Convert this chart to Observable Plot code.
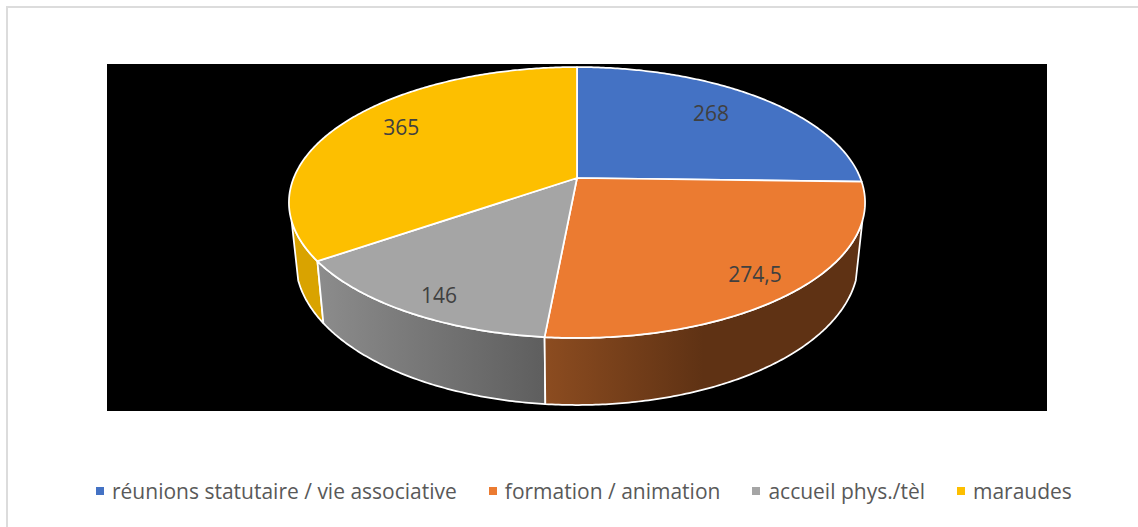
<!DOCTYPE html>
<html lang="fr">
<head>
<meta charset="utf-8">
<script src="https://cdn.jsdelivr.net/npm/d3@7"></script>
<script src="https://cdn.jsdelivr.net/npm/@observablehq/plot@0.6"></script>
<style>
  html, body { margin: 0; padding: 0; background: #fff; }
  #page { position: relative; width: 1138px; height: 527px; overflow: hidden; font-family: "Open Sans", sans-serif; }
  #edge { position: absolute; left: 6px; top: 6px; right: 0; bottom: 0; border-top: 2px solid #dcdcdc; border-left: 2px solid #dcdcdc; box-sizing: border-box; }
  #chart { position: absolute; left: 0; top: 0; }
  #chart svg { display: block; }
  #legend { position: absolute; left: 96px; top: 477px; display: flex; align-items: center; white-space: nowrap; font-size: 21px; line-height: 28px; color: #595959; }
  #legend span.item { display: inline-flex; align-items: center; margin-right: 32px; }
  #legend i { display: inline-block; width: 8px; height: 8px; margin-right: 8px; }
</style>
</head>
<body>
<div id="page"><div id="edge"></div><div id="chart"></div><div id="legend"></div></div>
<script>
// Data
const categories = ["réunions statutaire / vie associative", "formation / animation", "accueil phys./tèl", "maraudes"];
const values = [268, 274.5, 146, 365];
const valueLabels = ["268", "274,5", "146", "365"];
const colors = ["#4472C4", "#EB7B31", "#A5A5A5", "#FDBF00"];

// Perspective of the pie
const radius = 283.3, farScale = 131, persp = 0.181;   // top face
const lowerX = 0.977, lowerY = 1.066, lowerDrop = 56.5; // bottom ring
const silhouette = 108 * Math.PI / 180;                 // where the rim starts to be seen
const labelRadius = [0.746, 0.856, 0.88, 0.783];
const labelTurn = [-1.7, 1.2, -1.9, 4];
const sideStops = [
  [["0", "#3a5fa5"], ["1", "#2a4a85"]],
  [["0", "#8c4c20"], ["0.5", "#5f3214"], ["1", "#5f3214"]],
  [["0", "#8c8c8c"], ["1", "#5e5e5e"]],
  [["0", "#d9a300"], ["1", "#d9a300"]]
];

const arcs = d3.pie().sort(null).startAngle(0).endAngle(2 * Math.PI)(values);

function topRing(theta, r = 1) {
  const u = r * Math.sin(theta), v = r * Math.cos(theta), w = 1 + persp * v;
  return {x: radius * u / w, y: farScale * v / w};
}
function lowRing(theta) {
  const p = topRing(theta);
  return {x: p.x * lowerX, y: p.y * lowerY - lowerDrop};
}
function arcAngles(start, end) {
  const n = Math.max(8, Math.ceil((end - start) / 0.01));
  return d3.range(n + 1).map(i => start + (end - start) * i / n);
}
const facePts = arcs.map(a => [{x: 0, y: 0}, ...arcAngles(a.startAngle, a.endAngle).map(t => topRing(t))]);
const sidePts = arcs.map(a => {
  const start = Math.max(a.startAngle, silhouette);
  const end = Math.min(a.endAngle, 2 * Math.PI - silhouette);
  if (end <= start) return [];
  const ts = arcAngles(start, end);
  return [...ts.map(t => topRing(t)), ...ts.slice().reverse().map(t => lowRing(t))];
});
const labels = arcs.map((a, i) => ({
  text: valueLabels[i],
  ...topRing((a.startAngle + a.endAngle) / 2 + labelTurn[i] * Math.PI / 180, labelRadius[i])
}));

const gradients = () => {
  const defs = d3.create("svg:defs");
  sideStops.forEach((stops, i) => {
    const g = defs.append("linearGradient").attr("id", "side" + i);
    stops.forEach(([o, c]) => g.append("stop").attr("offset", o).attr("stop-color", c));
  });
  return defs.node();
};

const lineStyle = {x: "x", y: "y", stroke: "white", strokeWidth: 1.75, strokeLinejoin: "round", curve: "linear-closed"};

const chart = Plot.plot({
  width: 1138, height: 430,
  marginLeft: 106.5, marginRight: 91.5, marginTop: 63.5, marginBottom: 19.5,
  x: {domain: [-470, 470], axis: null},
  y: {domain: [-233, 114], axis: null},
  style: {background: "transparent", fontFamily: '"Open Sans", sans-serif'},
  marks: [
    Plot.frame({fill: "black", stroke: "none"}),
    gradients,
    ...[3, 2, 1].map(i => Plot.line(sidePts[i], {...lineStyle, fill: `url(#side${i})`})),
    ...facePts.map((pts, i) => Plot.line(pts, {...lineStyle, fill: colors[i]})),
    Plot.text(labels, {x: "x", y: "y", text: "text", fill: "#404040", fontSize: 21})
  ]
});
document.getElementById("chart").append(chart);

const legend = d3.select("#legend");
categories.forEach((c, i) => {
  const item = legend.append("span").attr("class", "item");
  item.append("i").style("background", colors[i]);
  item.append("span").text(c);
});
</script>
</body>
</html>
